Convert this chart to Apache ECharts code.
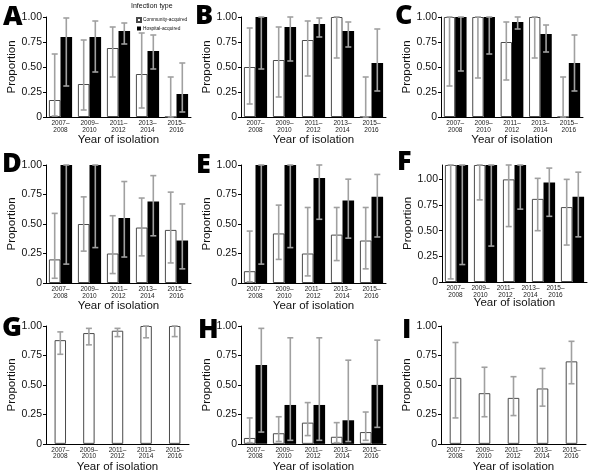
<!DOCTYPE html>
<html>
<head>
<meta charset="utf-8">
<script src="https://cdn.jsdelivr.net/npm/echarts@6/dist/echarts.min.js"></script>
<style>html,body{margin:0;padding:0;background:#fff}#c{width:600px;height:474px}</style>
</head>
<body>
<div id="c"></div>
<script>
const categories = ['2007–\n2008', '2009–\n2010', '2011–\n2012', '2013–\n2014', '2015–\n2016'];
const yTicks = [0, 0.25, 0.5, 0.75, 1];
const legendNames = ['Community-acquired', 'Hospital-acquired'];

// each entry: [proportion, lower CI, upper CI]
const A_comm = [[0.17,0.01,0.63],[0.33,0.07,0.77],[0.69,0.40,0.90],[0.43,0.09,0.84],[0,0,0.40]];
const A_hosp = [[0.80,0.31,0.99],[0.80,0.45,0.96],[0.86,0.73,0.94],[0.66,0.48,0.82],[0.23,0.05,0.54]];
const B_comm = [[0.50,0.13,0.89],[0.57,0.20,0.90],[0.77,0.41,0.96],[1.00,0.59,1.00],[0,0,0.40]];
const B_hosp = [[1.00,0.48,1.00],[0.90,0.56,1.00],[0.93,0.80,0.99],[0.86,0.70,0.95],[0.54,0.26,0.88]];
const C_comm = [[1.00,0.31,1.00],[1.00,0.39,1.00],[0.75,0.37,0.95],[1.00,0.59,1.00],[0,0,0.40]];
const C_hosp = [[1.00,0.46,1.00],[1.00,0.63,1.00],[0.95,0.88,1.00],[0.83,0.65,0.92],[0.54,0.26,0.82]];
const D_comm = [[0.20,0.04,0.59],[0.50,0.27,0.73],[0.25,0.08,0.57],[0.47,0.23,0.72],[0.45,0.17,0.77]];
const D_hosp = [[1.00,0.16,1.00],[1.00,0.30,1.00],[0.55,0.22,0.86],[0.69,0.40,0.91],[0.36,0.12,0.67]];
const E_comm = [[0.10,0.01,0.44],[0.42,0.20,0.66],[0.25,0.06,0.64],[0.41,0.19,0.64],[0.36,0.12,0.64]];
const E_hosp = [[1.00,0.16,1.00],[1.00,0.30,1.00],[0.89,0.54,1.00],[0.70,0.38,0.88],[0.73,0.39,0.92]];
const F_comm = [[1.14,0.03,1.14],[1.14,0.80,1.14],[1.00,0.54,1.14],[0.81,0.50,1.01],[0.73,0.36,1.00]];
const F_hosp = [[1.14,0.17,1.14],[1.14,0.35,1.14],[1.14,0.71,1.14],[0.97,0.64,1.11],[0.83,0.44,1.07]];
const F_max = 1.14;
const G_all = [[0.88,0.76,0.95],[0.94,0.84,0.98],[0.96,0.91,0.98],[1.00,0.90,1.00],[1.00,0.91,1.00]];
const H_comm = [[0.05,0.01,0.22],[0.09,0.02,0.23],[0.18,0.07,0.35],[0.06,0.01,0.18],[0.10,0.03,0.27]];
const H_hosp = [[0.67,0.10,0.98],[0.33,0.03,0.90],[0.33,0.03,0.90],[0.20,0.02,0.71],[0.50,0.14,0.88]];
const I_all = [[0.56,0.22,0.86],[0.43,0.23,0.65],[0.39,0.24,0.57],[0.47,0.32,0.64],[0.70,0.51,0.87]];

const FONT = '"Liberation Sans", Arial, sans-serif';
const panels = [
  {id:'A', series:[A_comm, A_hosp], max:1, box:{left:46, top:17, width:145, height:100}, letter:[3,17]},
  {id:'B', series:[B_comm, B_hosp], max:1, box:{left:241, top:17, width:145, height:100}, letter:[195,16]},
  {id:'C', series:[C_comm, C_hosp], max:1, box:{left:441, top:17, width:142, height:100}, letter:[395,16]},
  {id:'D', series:[D_comm, D_hosp], max:1, box:{left:46, top:165, width:145, height:118}, letter:[2,164]},
  {id:'E', series:[E_comm, E_hosp], max:1, box:{left:241, top:165, width:145, height:118}, letter:[196,165]},
  {id:'F', series:[F_comm, F_hosp], max:F_max, box:{left:442, top:165, width:145, height:117}, letter:[397,162], shiftedLabels:{left:443, width:125}},
  {id:'G', series:[G_all], max:1, box:{left:46, top:326, width:143, height:118}, letter:[2,328]},
  {id:'H', series:[H_comm, H_hosp], max:1, box:{left:241, top:326, width:145, height:118}, letter:[198,330]},
  {id:'I', series:[I_all], max:1, box:{left:441, top:326, width:145, height:118}, letter:[402,330]}
];

const ERR_COLOR = '#a0a0a0';
function errRender(offFrac) {
  return function (params, api) {
    const x = api.value(0), lo = api.value(1), hi = api.value(2);
    const pLo = api.coord([x, lo]);
    const pHi = api.coord([x, hi]);
    const band = api.size([1, 0])[0];
    const cx = pLo[0] + offFrac * band;
    const cap = 3;
    const st = {stroke: ERR_COLOR, lineWidth: 1.6};
    return {type:'group', children:[
      {type:'line', shape:{x1:cx, y1:pLo[1], x2:cx, y2:pHi[1]}, style:st},
      {type:'line', shape:{x1:cx-cap, y1:pHi[1], x2:cx+cap, y2:pHi[1]}, style:st},
      {type:'line', shape:{x1:cx-cap, y1:pLo[1], x2:cx+cap, y2:pLo[1]}, style:st}
    ]};
  };
}

const option = {animation:false, grid:[], xAxis:[], yAxis:[], series:[], graphic:[]};
const labelCfg = {fontSize:6.5, lineHeight:6.5, color:'#222', margin:3, interval:0, fontFamily:FONT};

panels.forEach((p, i) => {
  option.grid.push(Object.assign({containLabel:false}, p.box));
  option.xAxis.push({
    type:'category', gridIndex:i, data:categories,
    axisLine:{lineStyle:{color:'#000', width:1}}, axisTick:{show:false},
    axisLabel:Object.assign({show:!p.shiftedLabels}, labelCfg),
    name:'Year of isolation', nameLocation:'middle', nameGap:15,
    nameTextStyle:{fontSize:11.5, color:'#111', fontFamily:FONT}
  });
  option.yAxis.push({
    type:'value', gridIndex:i, min:0, max:p.max,
    axisLine:{show:true, lineStyle:{color:'#000', width:1}},
    axisTick:{show:true, length:3, customValues:yTicks, lineStyle:{color:'#000'}},
    axisLabel:{customValues:yTicks, fontSize:10.5, color:'#111', margin:4, fontFamily:FONT,
      formatter:v => v === 0 ? '0' : v.toFixed(2)},
    splitLine:{show:false},
    name:'Proportion', nameLocation:'middle', nameGap:28, nameRotate:90,
    nameTextStyle:{fontSize:11.5, color:'#111', fontFamily:FONT}
  });
  const two = p.series.length === 2;
  p.series.forEach((s, k) => {
    const white = (k === 0);
    option.series.push({
      type:'bar', xAxisIndex:i, yAxisIndex:i,
      name: i === 0 ? legendNames[k] : undefined,
      data:s.map(d => d[0]), barWidth:'40%', barGap:'0%',
      itemStyle: white ? {color:'#fff', borderColor:'#4a4a4a', borderWidth:1} : {color:'#000'},
      z:2
    });
  });
  p.series.forEach((s, k) => {
    const off = two ? (k === 0 ? -0.2 : 0.2) : 0;
    option.series.push({
      type:'custom', xAxisIndex:i, yAxisIndex:i,
      data:s.map((d, j) => [j, d[1], d[2]]),
      encode:{x:0, y:[1, 2]}, renderItem:errRender(off), z:5
    });
  });
  option.graphic.push({type:'text', x:p.letter[0], y:p.letter[1],
    style:{text:p.id, font:'800 27px "Open Sans", sans-serif', fill:'#000', verticalAlign:'middle'}});
});

// panel F: category labels are printed on a narrower scale than the bars
panels.forEach((p, i) => {
  if (!p.shiftedLabels) return;
  const gi = option.grid.length;
  option.grid.push({left:p.shiftedLabels.left, width:p.shiftedLabels.width, top:p.box.top, height:p.box.height});
  option.xAxis.push({type:'category', gridIndex:gi, data:categories,
    axisLine:{show:false}, axisTick:{show:false}, axisLabel:labelCfg});
  option.yAxis.push({type:'value', gridIndex:gi, show:false, min:0, max:1});
});

option.legend = {
  data:legendNames.map(n => ({name:n, icon:'rect'})), orient:'vertical', left:131, top:12, itemWidth:4, itemHeight:4, itemGap:3,
  selectedMode:false, textStyle:{fontSize:4.8, color:'#111', fontFamily:FONT, padding:[0,0,0,-3]}
};
option.graphic.push({type:'text', x:131, y:6, style:{text:'Infection type', font:'7px "Liberation Sans", Arial, sans-serif', fill:'#111', verticalAlign:'middle'}});

const chart = echarts.init(document.getElementById('c'), null, {renderer:'canvas'});
chart.setOption(option);
</script>
</body>
</html>
